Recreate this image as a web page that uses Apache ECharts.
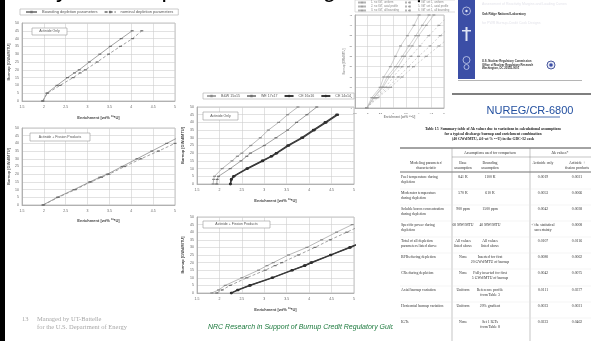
<!DOCTYPE html>
<html>
<head>
<meta charset="utf-8">
<script src="https://cdn.jsdelivr.net/npm/echarts@6/dist/echarts.min.js"></script>
<style>
  html, body { margin: 0; padding: 0; background: #fff; }
  #chart { width: 591px; height: 341px; }
</style>
</head>
<body>
<div id="chart"></div>
<script>
  // ---- data (enrichment in wt% U-235, burnup in GWd/MTU) ----
  var enrichTicks = ['1.5', '2', '2.5', '3', '3.5', '4', '4.5', '5'];

  // top left: actinide only
  var aBurnup = [0, 5, 10, 15, 18, 20, 25, 30, 35, 40, 45];
  var aBounding = [1.98, 2.07, 2.30, 2.54, 2.70, 2.81, 3.04, 3.28, 3.52, 3.77, 4.02];
  var aNominal = [1.97, 2.08, 2.37, 2.67, 2.83, 2.95, 3.22, 3.48, 3.75, 4.03, 4.24];

  // bottom left: actinide + fission products
  var bBurnup = [0, 5, 10, 15, 18, 20, 25, 30, 35, 40, 45];
  var bBounding = [1.98, 2.31, 2.69, 3.05, 3.28, 3.45, 3.79, 4.13, 4.47, 4.81, 5.15];
  var bNominal = [1.99, 2.33, 2.72, 3.08, 3.32, 3.49, 3.85, 4.22, 4.62, 5.0];

  // middle top: assembly designs, actinide only
  var cBurnup = [0, 3, 5, 10, 15, 18, 20, 25, 30, 35, 40, 45, 50];
  var cBW = [1.86, 1.87, 1.89, 2.06, 2.28, 2.40, 2.50, 2.70, 2.91, 3.09, 3.32, 3.52, 3.75];
  var cWE = [1.94, 1.95, 1.98, 2.24, 2.48, 2.61, 2.69, 3.00, 3.26, 3.52, 3.72, 3.95, 4.17];
  var cCE16 = [2.24, 2.26, 2.31, 2.61, 2.95, 3.15, 3.26, 3.52, 3.83, 4.09, 4.35, 4.61];
  var cCE14 = [2.25, 2.27, 2.33, 2.63, 2.97, 3.17, 3.28, 3.55, 3.86, 4.12, 4.38, 4.64];

  // middle bottom: assembly designs, actinide + fission products
  var dBurnup = [0, 2, 5, 10, 15, 18, 20, 25, 30, 35, 40, 45];
  var dBW = [1.83, 1.98, 2.13, 2.50, 2.87, 3.06, 3.20, 3.54, 3.95, 4.28, 4.61, 4.96];
  var dWE = [1.94, 2.06, 2.24, 2.61, 3.02, 3.24, 3.39, 3.76, 4.13, 4.47, 4.84, 5.20];
  var dCE16 = [2.26, 2.40, 2.67, 3.17, 3.61, 3.89, 4.04, 4.47, 4.90, 5.30];
  var dCE14 = [2.27, 2.42, 2.69, 3.19, 3.63, 3.91, 4.06, 4.49, 4.92, 5.32];

  // top right: small loading curve chart
  var eBurnup = [0, 5, 10, 15, 20, 25, 30, 35, 40, 45];
  var eCurve1 = [1.96, 2.16, 2.49, 2.63, 2.89, 3.09, 3.29, 3.56, 3.82, 4.02];
  var eCurve2 = [1.96, 2.23, 2.56, 2.76, 3.09, 3.36, 3.62, 3.89, 4.15, 4.41];
  var eCurve3 = [1.96, 2.25, 2.60, 2.85, 3.20, 3.45, 3.75, 4.00, 4.30, 4.60];
  var eCurve4 = [1.96, 2.30, 2.70, 3.00, 3.35, 3.70, 4.05, 4.40, 4.80, 5.20];
  var eCurve5 = [1.96, 2.35, 2.80, 3.20, 3.60, 4.00, 4.45, 4.85, 5.30];
  var eCurve6 = [1.96, 2.40, 2.90, 3.35, 3.80, 4.30, 4.80, 5.30];

  var depletionNames = ['Bounding depletion parameters', 'nominal depletion parameters'];
  var designNames = ['B&W 15x15', 'WE 17x17', 'CE 16x16', 'CE 14x14'];
  var eNamesLeft = ['1. no IGT, uniform', '2. no IGT, axial profile', '3. no IGT, all bounding'];
  var eNamesRight = ['4. IGT set 1, uniform', '5. IGT set 1, axial profile', '6. IGT set 1, all bounding'];

  var tableTitle = [
    'Table 15  Summary table of \u0394k values due to variations in calculational assumptions',
    'for a typical discharge burnup and enrichment combination',
    '(40 GWd/MTU, 4.0 wt % \u00b2\u00b3\u2075U) in the GBC-32 cask'
  ];
  var tableHeader = ['Modeling parameter/\ncharacteristic', 'Base\nassumption', 'Bounding\nassumption',
    'Actinide only', 'Actinide +\nfission products'];
  var tableRows = [
    ['Fuel temperature during\ndepletion', '841 K', '1100 K', '0.0019', '0.0021'],
    ['Moderator temperature\nduring depletion', '570 K', '610 K', '0.0053', '0.0066'],
    ['Soluble boron concentration\nduring depletion', '900 ppm', '1500 ppm', '0.0042', '0.0038'],
    ['Specific power during\ndepletion', '60 MW/MTU', '40 MW/MTU', '< the statistical\nuncertainty', '0.0008'],
    ['Total of all depletion\nparameters listed above', 'All values\nlisted above', 'All values\nlisted above', '0.0107', '0.0116'],
    ['BPRs during depletion', 'None', 'Inserted for first\n20 GWd/MTU of burnup', '0.0080', '0.0062'],
    ['CRs during depletion', 'None', 'Fully inserted for first\n5 GWd/MTU of burnup', '0.0042', '0.0075'],
    ['Axial burnup variation', 'Uniform', 'Reference profile\nfrom Table 3', '0.0111', '0.0377'],
    ['Horizontal burnup variation', 'Uniform', '20% gradient', '0.0023', '0.0021'],
    ['IGTs', 'None', 'Set 1 IGTs\nfrom Table 8', '0.0223', '0.0462']
  ];

  // ---- helpers ----
  var SANS = '"Liberation Sans", Arial, sans-serif';
  var SERIF = '"Liberation Serif", "Times New Roman", serif';

  function pairs(enrich, burnup) {
    var n = Math.min(enrich.length, burnup.length);
    var out = [];
    for (var i = 0; i < n; i++) out.push([enrich[i], burnup[i]]);
    return out;
  }

  function xAxisFor(gi, gap, fs, nameColor) {
    return {
      gridIndex: gi, type: 'value', min: 1.5, max: 5, interval: 0.5,
      name: 'Enrichment [wt% \u00b2\u00b3\u2075U]', nameLocation: 'middle', nameGap: gap,
      nameTextStyle: { fontSize: fs, color: nameColor || '#444', fontWeight: 'bold', fontFamily: SANS },
      axisLine: { lineStyle: { color: '#999', width: 0.6 } },
      axisTick: { show: false },
      axisLabel: {
        fontSize: fs - 0.5, color: '#666', margin: 4, fontFamily: SANS,
        formatter: function (v) { return enrichTicks[Math.round((v - 1.5) / 0.5)]; }
      },
      splitLine: { lineStyle: { color: '#cfcfcf', width: 0.6 } }
    };
  }

  function yAxisFor(gi, max, gap, fs, nameColor) {
    return {
      gridIndex: gi, type: 'value', min: 0, max: max, interval: 5,
      name: 'Burnup [GWd/MTU]', nameLocation: 'middle', nameGap: gap,
      nameTextStyle: { fontSize: fs, color: nameColor || '#444', fontWeight: 'bold', fontFamily: SANS },
      axisLine: { show: true, lineStyle: { color: '#999', width: 0.6 } },
      axisTick: { show: false },
      axisLabel: { fontSize: fs - 0.5, color: '#666', margin: 3, fontFamily: SANS },
      splitLine: { lineStyle: { color: '#cfcfcf', width: 0.6 } }
    };
  }

  function curve(name, gi, data, kind) {
    var s = {
      name: name, type: 'line', xAxisIndex: gi, yAxisIndex: gi, data: data,
      symbol: 'rect', symbolSize: [3, 1.2], animation: false,
      lineStyle: { color: '#8c8c8c', width: 0.8 },
      itemStyle: { color: '#6f6f6f' }
    };
    if (kind === 'dash') s.lineStyle.type = [3, 2];
    if (kind === 'light') { s.lineStyle.color = '#a8a8a8'; s.itemStyle.color = '#888'; }
    if (kind === 'faint') { s.lineStyle.color = '#b4b4b4'; s.lineStyle.width = 0.6; s.itemStyle.color = '#999'; }
    if (kind === 'faintdash') { s.lineStyle.color = '#b4b4b4'; s.lineStyle.width = 0.6; s.lineStyle.type = [2, 2]; s.itemStyle.color = '#999'; }
    if (kind === 'dark') {
      s.lineStyle = { color: '#3a3a3a', width: 1.2 };
      s.itemStyle = { color: '#2e2e2e' };
      s.symbol = 'circle'; s.symbolSize = 2.6; s.z = 3;
    }
    return s;
  }

  var grids = [
    { left: 22, top: 23, width: 153, height: 78 },
    { left: 22, top: 128, width: 153, height: 77 },
    { left: 197, top: 107, width: 157, height: 77 },
    { left: 197, top: 217, width: 157, height: 76 },
    { left: 355, top: 15, width: 89, height: 93 }
  ].map(function (g) {
    g.show = true; g.borderColor = '#9a9a9a'; g.borderWidth = 0.6;
    g.backgroundColor = '#fff'; g.outerBoundsMode = 'none';
    return g;
  });

  var xAxes = [xAxisFor(0, 15, 4), xAxisFor(1, 14, 4), xAxisFor(2, 15, 4), xAxisFor(3, 15, 4), xAxisFor(4, 7, 3, '#888')];
  var yAxes = [yAxisFor(0, 50, 9, 4, '#666'), yAxisFor(1, 50, 9, 4, '#666'), yAxisFor(2, 50, 12, 4), yAxisFor(3, 50, 12, 4), yAxisFor(4, 45, 8, 2.8, '#999')];

  var series = [
    curve(depletionNames[0], 0, pairs(aBounding, aBurnup), 'solid'),
    curve(depletionNames[1], 0, pairs(aNominal, aBurnup), 'dash'),
    curve(depletionNames[0], 1, pairs(bBounding, bBurnup), 'solid'),
    curve(depletionNames[1], 1, pairs(bNominal, bBurnup), 'dash'),
    curve(designNames[0], 2, pairs(cBW, cBurnup), 'light'),
    curve(designNames[1], 2, pairs(cWE, cBurnup), 'solid'),
    curve(designNames[2], 2, pairs(cCE16, cBurnup), 'dark'),
    curve(designNames[3], 2, pairs(cCE14, cBurnup), 'dark'),
    curve(designNames[0], 3, pairs(dBW, dBurnup), 'light'),
    curve(designNames[1], 3, pairs(dWE, dBurnup), 'dash'),
    curve(designNames[2], 3, pairs(dCE16, dBurnup), 'dark'),
    curve(designNames[3], 3, pairs(dCE14, dBurnup), 'dark'),
    curve(eNamesLeft[0], 4, pairs(eCurve1, eBurnup), 'faint'),
    curve(eNamesLeft[1], 4, pairs(eCurve2, eBurnup), 'faint'),
    curve(eNamesLeft[2], 4, pairs(eCurve3, eBurnup), 'faint'),
    curve(eNamesRight[0], 4, pairs(eCurve4, eBurnup), 'faintdash'),
    curve(eNamesRight[1], 4, pairs(eCurve5, eBurnup), 'faintdash'),
    curve(eNamesRight[2], 4, pairs(eCurve6, eBurnup), 'faintdash')
  ];

  var legendText = { fontSize: 4, color: '#555', fontFamily: SANS };
  var legends = [
    { left: 20, top: 9, itemWidth: 11, itemHeight: 3, itemGap: 6, padding: [1, 5],
      borderColor: '#aaa', borderWidth: 0.6, textStyle: legendText, data: depletionNames },
    { left: 203, top: 93, itemWidth: 9, itemHeight: 3, itemGap: 6, padding: [1, 3],
      borderColor: '#aaa', borderWidth: 0.6, textStyle: { fontSize: 3.6, color: '#555', fontFamily: SANS }, data: designNames },
    { left: 357, top: 1, orient: 'vertical', itemWidth: 8, itemHeight: 2, itemGap: 1, padding: 0,
      textStyle: { fontSize: 2.8, color: '#888', fontFamily: SANS }, data: eNamesLeft },
    { left: 404, top: 1, orient: 'vertical', itemWidth: 8, itemHeight: 2, itemGap: 1, padding: 0,
      textStyle: { fontSize: 2.8, color: '#888', fontFamily: SANS }, data: eNamesRight }
  ];

  // ---- slide decoration, boxes, cover and table ----
  var g = [];
  function txt(x, y, s, o) {
    var st = { text: s, fill: '#333', fontSize: 4, fontFamily: SANS, align: 'left', verticalAlign: 'top' };
    for (var k in o) st[k] = o[k];
    g.push({ type: 'text', x: x, y: y, z: 10, style: st });
  }
  function box(x, y, w, h, fill, stroke, lw) {
    g.push({ type: 'rect', z: 10, shape: { x: x, y: y, width: w, height: h },
      style: { fill: fill || 'none', stroke: stroke || null, lineWidth: lw || 0.6 } });
  }
  function hline(x1, x2, y, color, lw) {
    g.push({ type: 'line', z: 10, shape: { x1: x1, y1: y, x2: x2, y2: y }, style: { stroke: color, lineWidth: lw } });
  }

  // slide title (cut off at the top) and left bar
  txt(8, -10, 'Analysis of Depletion Modeling Assumptions', { fontSize: 24, fill: '#000', verticalAlign: 'middle' });
  box(0, 0, 5, 341, '#000');

  // chart tags
  box(32, 28, 35, 7, '#fff', '#999'); txt(49.5, 31.5, 'Actinide Only', { align: 'center', verticalAlign: 'middle', fontSize: 3.5, fill: '#555' });
  box(30, 133, 60, 8, '#fff', '#999'); txt(60, 137, 'Actinide + Fission Products', { align: 'center', verticalAlign: 'middle', fontSize: 3.5, fill: '#555' });
  box(203, 112, 35, 8, '#fff', '#999'); txt(220.5, 116, 'Actinide Only', { align: 'center', verticalAlign: 'middle', fontSize: 3.5, fill: '#555' });
  box(203, 221, 67, 7, '#fff', '#999'); txt(236.5, 224.5, 'Actinide + Fission Products', { align: 'center', verticalAlign: 'middle', fontSize: 3.5, fill: '#555' });
  box(355, 0, 104, 12, 'none', '#bbb', 0.5);

  // footer
  txt(22, 319, '13', { fontFamily: SERIF, fontSize: 6.5, fill: '#a8a8a8', verticalAlign: 'middle' });
  txt(37, 319, 'Managed by UT-Battelle', { fontFamily: SERIF, fontSize: 6.5, fill: '#a8a8a8', verticalAlign: 'middle' });
  txt(37, 327, 'for the U.S. Department of Energy', { fontFamily: SERIF, fontSize: 6.5, fill: '#a8a8a8', verticalAlign: 'middle' });
  txt(208, 327, 'NRC Research in Support of Burnup Credit Regulatory Guidance',
    { fontSize: 7, fontStyle: 'italic', fill: '#1d7a3e', verticalAlign: 'middle' });

  // report cover
  box(455, 0, 136, 82, '#fff');
  box(458, 0, 17, 79, '#3b4ea6');
  g.push({ type: 'circle', z: 11, shape: { cx: 466.5, cy: 11, r: 4 }, style: { fill: 'none', stroke: '#dfe4f5', lineWidth: 0.7 } });
  g.push({ type: 'circle', z: 11, shape: { cx: 466.5, cy: 11, r: 1.2 }, style: { fill: '#dfe4f5' } });
  box(465.5, 27, 2, 14, '#dfe4f5'); box(462, 30, 9, 1.5, '#dfe4f5');
  g.push({ type: 'circle', z: 11, shape: { cx: 466.5, cy: 60, r: 3.5 }, style: { fill: 'none', stroke: '#c9d1ee', lineWidth: 0.8 } });
  g.push({ type: 'circle', z: 11, shape: { cx: 466.5, cy: 67, r: 2.5 }, style: { fill: 'none', stroke: '#c9d1ee', lineWidth: 0.8 } });
  txt(482, 2, 'Assessment of Reactivity Margins and Loading Curves', { fontSize: 3.5, fill: '#e3e3ea' });
  txt(482, 21, 'for PWR Burnup-Credit Cask Designs', { fontSize: 3.5, fill: '#e3e3ea' });
  txt(482, 12.5, 'Oak Ridge National Laboratory', { fontSize: 3, fill: '#333', fontWeight: 'bold' });
  txt(482, 60, 'U.S. Nuclear Regulatory Commission\nOffice of Nuclear Regulatory Research\nWashington, DC 20555-0001',
    { fontSize: 2.8, fill: '#333', lineHeight: 3.2, fontWeight: 'bold' });
  g.push({ type: 'circle', z: 11, shape: { cx: 551, cy: 65, r: 4 }, style: { fill: '#e8ebf6', stroke: '#4b5aa0', lineWidth: 1 } });
  g.push({ type: 'circle', z: 11, shape: { cx: 551, cy: 65, r: 1.8 }, style: { fill: '#3b4ea6' } });
  hline(458, 582, 80.5, '#b5b5b5', 1);
  hline(452, 591, 94, '#555', 1.5);
  txt(530, 111, 'NUREG/CR-6800', { fontSize: 11, fill: '#2350a0', align: 'center', verticalAlign: 'middle' });
  hline(500, 560, 117, '#2350a0', 0.8);

  // summary table
  box(393, 122, 198, 219, '#fff');
  var colX = [401, 463, 490, 543, 577];
  var rowY = [175, 191, 207, 223, 239, 255, 271, 288, 304, 320];
  var tStyle = { fontFamily: SERIF, fontSize: 3.8, fill: '#333', lineHeight: 4.5 };
  tableTitle.forEach(function (line, i) {
    txt(493, 127 + i * 5, line, { fontFamily: SERIF, fontSize: 3.8, fill: '#222', fontWeight: 'bold', align: 'center' });
  });
  hline(400, 593, 148, '#333', 0.9);
  hline(452, 593, 157, '#888', 0.5);
  hline(400, 593, 172, '#333', 0.7);
  g.push({ type: 'line', z: 10, shape: { x1: 452, y1: 148, x2: 452, y2: 341 }, style: { stroke: '#888', lineWidth: 0.5 } });
  g.push({ type: 'line', z: 10, shape: { x1: 530, y1: 148, x2: 530, y2: 341 }, style: { stroke: '#888', lineWidth: 0.5 } });
  txt(490, 151, 'Assumptions used for comparison', Object.assign({}, tStyle, { align: 'center' }));
  txt(560, 151, '\u0394k values*', Object.assign({}, tStyle, { align: 'center' }));
  tableHeader.forEach(function (h, c) {
    txt(c === 0 ? 426 : colX[c], 161, h, Object.assign({}, tStyle, { align: 'center' }));
  });
  tableRows.forEach(function (row, r) {
    row.forEach(function (cell, c) {
      txt(colX[c], rowY[r], cell, Object.assign({}, tStyle, { align: c === 0 ? 'left' : 'center' }));
    });
    if (r > 0) hline(400, 593, rowY[r] - 2, '#e2e2e2', 0.4);
  });

  var chart = echarts.init(document.getElementById('chart'), null, { renderer: 'canvas' });
  chart.setOption({
    backgroundColor: '#fff',
    animation: false,
    grid: grids,
    xAxis: xAxes,
    yAxis: yAxes,
    legend: legends,
    series: series,
    graphic: g
  });
</script>
</body>
</html>
